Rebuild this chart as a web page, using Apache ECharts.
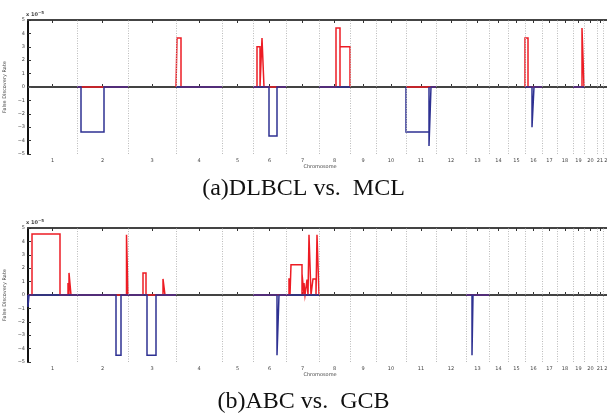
<!DOCTYPE html>
<html>
<head>
<meta charset="utf-8">
<script src="https://cdn.jsdelivr.net/npm/echarts@6/dist/echarts.min.js"></script>
<style>
    html, body { margin: 0; padding: 0; background: #fff; }
    #chart { width: 607px; height: 419px; }
</style>
</head>
<body>
<div id="chart"></div>
<script>
    // chromosome start positions (probe index), last value is end of chr22
    var chromStart = [0, 490, 1000, 1480, 1940, 2250, 2580, 2910, 3220, 3480, 3780,
        4080, 4380, 4610, 4800, 4970, 5140, 5290, 5450, 5560, 5690, 5750, 5840];
    var chromNames = ['1', '2', '3', '4', '5', '6', '7', '8', '9', '10', '11',
        '12', '13', '14', '15', '16', '17', '18', '19', '20', '21', '22'];

    // (a) DLBCL vs. MCL
    var aRegionStart = [490, 1480, 2250, 2910, 3780, 4970, 5450];
    var aRegionEnd = [1000, 1940, 2580, 3220, 4080, 5140, 5560];
    var aRedStart = [1490, 2290, 2340, 3080, 3120, 4970, 5540];
    var aRedEnd = [1530, 2320, 2360, 3120, 3220, 5000, 5560];
    var aRedVal = [3.65, 3.0, 3.65, 4.4, 3.0, 3.65, 4.4];
    var aBlueStart = [530, 2410, 3780, 4010, 5040];
    var aBlueEnd = [760, 2490, 4010, 4030, 5060];
    var aBlueVal = [-3.35, -3.65, -3.35, -4.4, -3.0];

    // (b) ABC vs. GCB
    var bRegionStart = [0, 2250, 4380];
    var bRegionEnd = [1480, 2910, 4610];
    var bRedStart = [40, 400, 410, 985, 1150, 1350, 2610, 2630, 2740, 2760, 2790, 2810, 2850, 2890];
    var bRedEnd = [320, 410, 430, 1000, 1180, 1370, 2620, 2740, 2760, 2770, 2800, 2830, 2880, 2910];
    var bRedVal = [4.55, 0.9, 1.65, 4.5, 1.65, 1.2, 1.25, 2.25, 1.6, 0.9, 1.15, 4.5, 1.2, 4.5];
    var bBlueStart = [0, 880, 1190, 2490, 4440];
    var bBlueEnd = [10, 930, 1280, 2510, 4450];
    var bBlueVal = [-0.9, -4.5, -4.5, -4.5, -4.5];

    var red = '#ed1c24', blue = '#2e3192';
    var xMax = chromStart[chromStart.length - 1];
    var centers = [];
    for (var i = 0; i < chromNames.length; i++) {
        centers.push((chromStart[i] + chromStart[i + 1]) / 2);
    }

    // outline rectangles on the zero line inside each region
    function stepLine(rs, re, s, e, v) {
        var pts = [];
        for (var r = 0; r < rs.length; r++) {
            pts.push([rs[r], 0]);
            for (var k = 0; k < s.length; k++) {
                if (s[k] >= rs[r] && s[k] < re[r]) {
                    pts.push([s[k], 0], [s[k], v[k]], [e[k], v[k]], [e[k], 0]);
                }
            }
            pts.push([re[r], 0]);
            pts.push(null);
        }
        return pts;
    }

    var tickFont = { fontSize: 5, color: '#444', fontFamily: 'DejaVu Sans' };
    var grids = [
        { left: 28, right: -5, top: 20, height: 134, containLabel: false, outerBoundsMode: 'none' },
        { left: 28, right: -5, top: 228, height: 134, containLabel: false, outerBoundsMode: 'none' }
    ];
    var xAxes = [], yAxes = [], series = [];
    var sets = [
        [aRegionStart, aRegionEnd, aRedStart, aRedEnd, aRedVal, aBlueStart, aBlueEnd, aBlueVal],
        [bRegionStart, bRegionEnd, bRedStart, bRedEnd, bRedVal, bBlueStart, bBlueEnd, bBlueVal]
    ];

    for (var g = 0; g < 2; g++) {
        xAxes.push({
            type: 'value', gridIndex: g, min: 0, max: xMax, position: 'bottom',
            name: 'Chromosome', nameLocation: 'middle', nameGap: 10,
            nameTextStyle: tickFont,
            axisLine: { lineStyle: { color: '#111', width: 2 } },
            axisTick: { inside: true, length: 3, customValues: centers, lineStyle: { color: '#333' } },
            axisLabel: {
                customValues: centers, margin: 4, fontSize: 5, color: '#444', fontFamily: 'DejaVu Sans',
                formatter: function (v) {
                    return chromNames[centers.indexOf(v)];
                }
            },
            splitLine: { show: false }
        });
        xAxes.push({
            type: 'value', gridIndex: g, min: 0, max: xMax, position: 'top',
            axisLine: { lineStyle: { color: '#444', width: 2 } },
            axisTick: { inside: true, length: 3, customValues: centers, lineStyle: { color: '#333' } },
            axisLabel: { show: false },
            splitLine: { show: false }
        });
        yAxes.push({
            type: 'value', gridIndex: g, min: -5, max: 5, interval: 1,
            name: 'False Discovery Rate', nameLocation: 'middle', nameGap: 12,
            nameTextStyle: tickFont,
            axisLine: { show: true, lineStyle: { color: '#111', width: 2 } },
            axisTick: { inside: true, length: 3, lineStyle: { color: '#333' } },
            axisLabel: {
                margin: 3, fontSize: 5, color: '#444', fontFamily: 'DejaVu Sans',
                formatter: function (v) { return v < 0 ? '\u2212' + (-v) : String(v); }
            },
            splitLine: { show: false }
        });

        var d = sets[g];
        var bounds = [];
        for (var c = 1; c < chromStart.length; c++) {
            bounds.push({ xAxis: chromStart[c] });
        }
        series.push({
            type: 'line', xAxisIndex: g * 2, yAxisIndex: g,
            data: [[0, 0], [xMax, 0]], showSymbol: false, silent: true,
            lineStyle: { color: '#777', width: 1 },
            markLine: {
                silent: true, symbol: 'none', label: { show: false },
                lineStyle: { color: '#bbb', type: [1, 1.5], width: 1 },
                data: bounds
            },
            z: 1
        });
        series.push({
            type: 'line', xAxisIndex: g * 2, yAxisIndex: g,
            data: stepLine(d[0], d[1], d[2], d[3], d[4]), showSymbol: false,
            connectNulls: false, lineStyle: { color: red, width: 1.5, join: 'miter', cap: 'butt' }, z: 3
        });
        series.push({
            type: 'line', xAxisIndex: g * 2, yAxisIndex: g,
            data: stepLine(d[0], d[1], d[5], d[6], d[7]), showSymbol: false,
            connectNulls: false, lineStyle: { color: blue, width: 1.5, join: 'miter', cap: 'butt' }, z: 4
        });
    }

    var capStyle = { fontFamily: 'Liberation Serif', fontWeight: 'normal', fontSize: 24, color: '#111' };
    var expStyle = {
        fontSize: 5, color: '#444', fontFamily: 'DejaVu Sans',
        rich: { s: { fontSize: 4, color: '#444', verticalAlign: 'top', padding: [0, 0, 3, 0] } }
    };

    var chart = echarts.init(document.getElementById('chart'));
    chart.setOption({
        animation: false,
        title: [
            { text: '(a)DLBCL vs.  MCL', left: 'center', top: 177, padding: [0, 0, 0, 7], textStyle: capStyle },
            { text: '(b)ABC vs.  GCB', left: 'center', top: 390, padding: [0, 0, 0, 7], textStyle: capStyle },
            { text: 'x 10{s|\u22125}', left: 26, top: 11, padding: 0, textStyle: expStyle },
            { text: 'x 10{s|\u22125}', left: 26, top: 219, padding: 0, textStyle: expStyle }
        ],
        grid: grids,
        xAxis: xAxes,
        yAxis: yAxes,
        series: series
    });
</script>
</body>
</html>
